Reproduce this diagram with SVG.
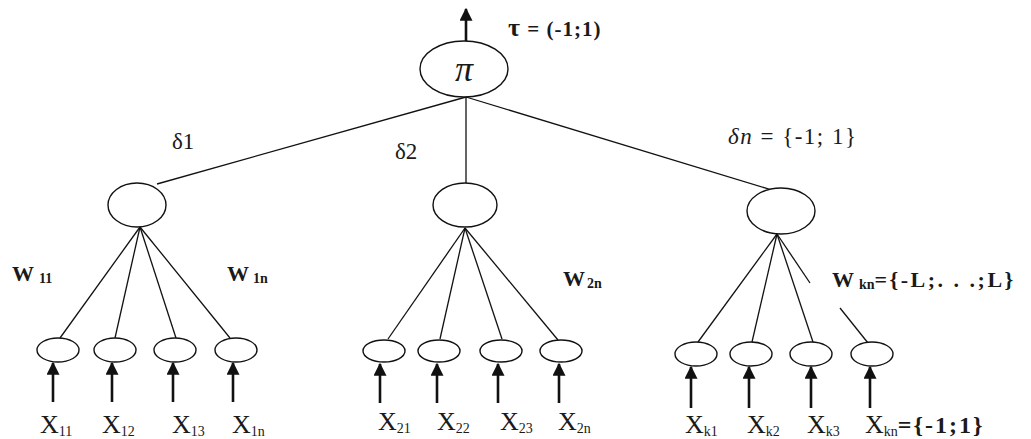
<svg xmlns="http://www.w3.org/2000/svg" width="1031" height="439" viewBox="0 0 1031 439">
<style>
.node{fill:#fff;stroke:#111;stroke-width:1.4}
.edge{stroke:#111;stroke-width:1.3;fill:none}
.arr{stroke:#111;stroke-width:2.6;fill:none}
.lbl{font-family:"Liberation Serif","DejaVu Serif",serif;fill:#1a1a1a}
.x{font-size:26px}
.w{font-size:22px;font-weight:bold}
.sub{font-size:14px}
.d{font-size:23px}
</style>
<defs>
<marker id="ah" viewBox="0 0 10 10" refX="9" refY="5" markerWidth="5" markerHeight="5" orient="auto" markerUnits="strokeWidth">
<path d="M0,0 L10,5 L0,10 z" fill="#111"/>
</marker>
</defs>
<rect width="1031" height="439" fill="#fff"/>
<g id="connectors">
<line class="arr" x1="466" y1="41" x2="466" y2="9" marker-end="url(#ah)"/>
<line class="edge" x1="466" y1="97" x2="157" y2="184"/>
<line class="edge" x1="466" y1="97" x2="466" y2="183"/>
<line class="edge" x1="466" y1="97" x2="772" y2="190"/>
<line class="edge" x1="140" y1="227" x2="60" y2="338"/>
<line class="edge" x1="140" y1="227" x2="115" y2="338"/>
<line class="edge" x1="140" y1="227" x2="176" y2="338"/>
<line class="edge" x1="140" y1="227" x2="230" y2="338"/>
<line class="edge" x1="465" y1="228" x2="388" y2="339"/>
<line class="edge" x1="465" y1="228" x2="440" y2="339"/>
<line class="edge" x1="465" y1="228" x2="502" y2="339"/>
<line class="edge" x1="465" y1="228" x2="558" y2="340"/>
<line class="edge" x1="777" y1="234" x2="698" y2="342"/>
<line class="edge" x1="777" y1="234" x2="752" y2="342"/>
<line class="edge" x1="777" y1="234" x2="813" y2="342"/>
<line class="edge" x1="777" y1="234" x2="810" y2="283"/>
<line class="edge" x1="840" y1="308" x2="868" y2="343"/>
<line class="arr" x1="53" y1="402" x2="53" y2="363" marker-end="url(#ah)"/>
<line class="arr" x1="112" y1="402" x2="112" y2="363" marker-end="url(#ah)"/>
<line class="arr" x1="173" y1="402" x2="173" y2="363" marker-end="url(#ah)"/>
<line class="arr" x1="233" y1="402" x2="233" y2="363" marker-end="url(#ah)"/>
<line class="arr" x1="380" y1="403" x2="380" y2="364" marker-end="url(#ah)"/>
<line class="arr" x1="437" y1="403" x2="437" y2="364" marker-end="url(#ah)"/>
<line class="arr" x1="498" y1="403" x2="498" y2="364" marker-end="url(#ah)"/>
<line class="arr" x1="559" y1="403" x2="559" y2="364" marker-end="url(#ah)"/>
<line class="arr" x1="691" y1="408" x2="691" y2="367" marker-end="url(#ah)"/>
<line class="arr" x1="749" y1="408" x2="749" y2="367" marker-end="url(#ah)"/>
<line class="arr" x1="811" y1="408" x2="811" y2="367" marker-end="url(#ah)"/>
<line class="arr" x1="870" y1="408" x2="870" y2="367" marker-end="url(#ah)"/>
</g>
<g id="pi">
<ellipse class="node" cx="464" cy="69" rx="44" ry="28"/>
<text class="lbl" x="464" y="81" font-size="36" font-style="italic" text-anchor="middle">π</text>
</g>
<g id="n1"><ellipse class="node" cx="137" cy="205" rx="29" ry="22"/></g>
<g id="n2"><ellipse class="node" cx="465" cy="205" rx="32" ry="22"/></g>
<g id="nk"><ellipse class="node" cx="781" cy="211" rx="34" ry="23"/></g>
<g id="x11"><ellipse class="node" cx="58" cy="350" rx="21" ry="12"/></g>
<g id="x12"><ellipse class="node" cx="115" cy="350" rx="21" ry="12"/></g>
<g id="x13"><ellipse class="node" cx="175" cy="350" rx="21" ry="12"/></g>
<g id="x1n"><ellipse class="node" cx="236" cy="350" rx="21" ry="12"/></g>
<g id="x21"><ellipse class="node" cx="384" cy="351" rx="21" ry="11"/></g>
<g id="x22"><ellipse class="node" cx="439" cy="351" rx="21" ry="11"/></g>
<g id="x23"><ellipse class="node" cx="501" cy="351" rx="21" ry="11"/></g>
<g id="x2n"><ellipse class="node" cx="561" cy="351" rx="21" ry="11"/></g>
<g id="xk1"><ellipse class="node" cx="696" cy="354" rx="21" ry="12"/></g>
<g id="xk2"><ellipse class="node" cx="751" cy="354" rx="21" ry="12"/></g>
<g id="xk3"><ellipse class="node" cx="811" cy="354" rx="21" ry="12"/></g>
<g id="xkn"><ellipse class="node" cx="872" cy="354" rx="21" ry="12"/></g>
<g id="labels">
<text class="lbl" x="508" y="36" font-size="21" font-weight="bold" fill="#333" letter-spacing="1"><tspan font-size="26">τ</tspan> = (-1;1)</text>
<text class="lbl d" x="172" y="149">δ1</text>
<text class="lbl d" x="395" y="159">δ2</text>
<text class="lbl d" x="728" y="144" letter-spacing="1.5"><tspan font-style="italic">δn</tspan> = {-1; 1}</text>
<text class="lbl w" x="12" y="281">W<tspan class="sub" dx="5" dy="2">11</tspan></text>
<text class="lbl w" x="227" y="281">W<tspan class="sub" dx="4" dy="2">1n</tspan></text>
<text class="lbl w" x="563" y="286">W<tspan class="sub" dx="2" dy="2">2n</tspan></text>
<text class="lbl w" x="832" y="287">W<tspan class="sub" dx="5" dy="2">kn</tspan><tspan dy="-2" letter-spacing="2.5">={-L;. . .;L}</tspan></text>
<text class="lbl x" x="40" y="433">X<tspan class="sub" dy="3">11</tspan></text>
<text class="lbl x" x="102" y="433">X<tspan class="sub" dy="3">12</tspan></text>
<text class="lbl x" x="172" y="433">X<tspan class="sub" dy="3">13</tspan></text>
<text class="lbl x" x="232" y="433">X<tspan class="sub" dy="3">1n</tspan></text>
<text class="lbl x" x="378" y="430">X<tspan class="sub" dy="3">21</tspan></text>
<text class="lbl x" x="437" y="430">X<tspan class="sub" dy="3">22</tspan></text>
<text class="lbl x" x="500" y="430">X<tspan class="sub" dy="3">23</tspan></text>
<text class="lbl x" x="558" y="430">X<tspan class="sub" dy="3">2n</tspan></text>
<text class="lbl x" x="685" y="433">X<tspan class="sub" dy="3">k1</tspan></text>
<text class="lbl x" x="747" y="433">X<tspan class="sub" dy="3">k2</tspan></text>
<text class="lbl x" x="807" y="433">X<tspan class="sub" dy="3">k3</tspan></text>
<text class="lbl x" x="865" y="433">X<tspan class="sub" dy="3">kn</tspan><tspan font-size="24" font-weight="bold" dy="-3" letter-spacing="2">={-1;1}</tspan></text>
</g>
</svg>
